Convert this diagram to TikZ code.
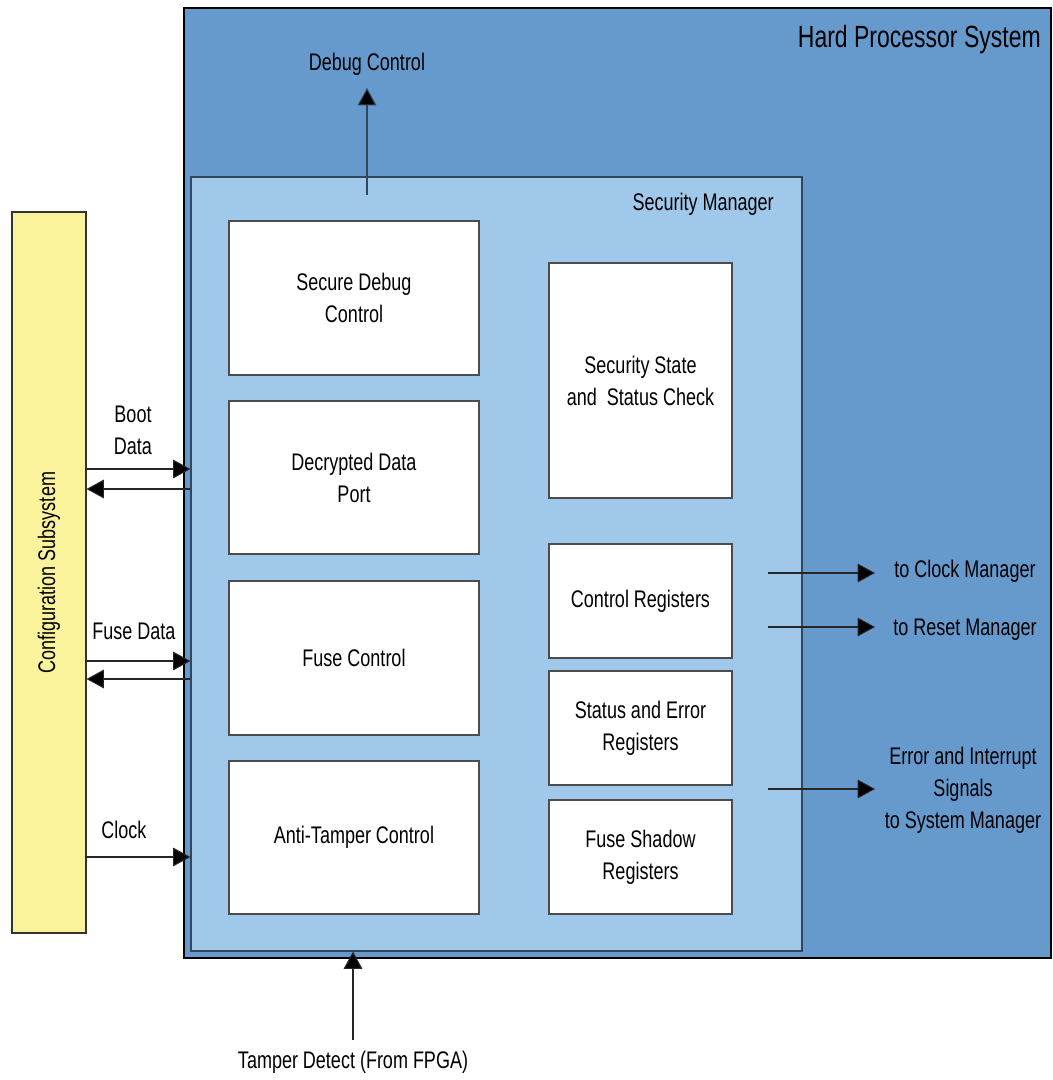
\documentclass[tikz,border=0pt]{standalone}
\usepackage{fontspec}
\setmainfont{Liberation Sans}[FakeStretch=0.75]
\usetikzlibrary{arrows.meta,calc}
\definecolor{hpsblue}{HTML}{6699CC}
\definecolor{smblue}{HTML}{9FC8EA}
\definecolor{cfgyellow}{HTML}{FAF39B}
\definecolor{smborder}{HTML}{34465A}
\tikzset{
  px/.style={x=0.75pt,y=-0.75pt},
  txt/.style={font=\fontsize{18pt}{24pt}\selectfont, align=center, inner sep=0pt},
  blk/.style={draw=black!70, fill=white, line width=0.9pt, txt},
  arr/.style={-{Triangle[length=13pt,width=14pt,fill=black]}, line width=0.8pt, draw=black!85},
}
\begin{document}
\begin{tikzpicture}[px]
\useasboundingbox (0,0) rectangle (1052,1080);
% Hard Processor System
\draw[fill=hpsblue, line width=1.6pt] (184,8) rectangle (1051,958);
\node[txt, font=\fontsize{23pt}{28pt}\selectfont, anchor=east] (hpsl) at (1041,40) {Hard Processor System};
% Security Manager
\node[draw=smborder, fill=smblue, line width=0.9pt, minimum width=611*0.75pt, minimum height=774*0.75pt, inner sep=0pt] (sm) at (496.5,564) {};
\node[txt, anchor=east] (sml) at (774,204) {Security Manager};
% blocks
\node[blk, minimum width=250*0.75pt, minimum height=154*0.75pt] (sdc) at (354,298) {Secure Debug\\Control};
\node[blk, minimum width=250*0.75pt, minimum height=153*0.75pt] (ddp) at (354,477.5) {Decrypted Data\\Port};
\node[blk, minimum width=250*0.75pt, minimum height=154*0.75pt] (fc) at (354,658) {Fuse Control};
\node[blk, minimum width=250*0.75pt, minimum height=153*0.75pt] (atc) at (354,837.5) {Anti-Tamper Control};
\node[blk, minimum width=183*0.75pt, minimum height=235*0.75pt] (ssc) at (640.5,380.5) {Security State\\and\ \ Status Check};
\node[blk, minimum width=183*0.75pt, minimum height=114*0.75pt] (cr) at (640.5,601) {Control Registers};
\node[blk, minimum width=183*0.75pt, minimum height=114*0.75pt] (ser) at (640.5,728) {Status and Error\\Registers};
\node[blk, minimum width=183*0.75pt, minimum height=114*0.75pt] (fsr) at (640.5,857) {Fuse Shadow\\Registers};
% Configuration subsystem
\node[draw=black!80, fill=cfgyellow, line width=0.8pt, minimum width=74*0.75pt, minimum height=721*0.75pt, inner sep=0pt] (cfg) at (49,572.5) {};
\node[txt, rotate=90] (cfgl) at (cfg.center) {Configuration Subsystem};
% left arrows
\coordinate (bootin) at (0,469);
\coordinate (bootout) at (0,489);
\coordinate (fusein) at (0,661);
\coordinate (fuseout) at (0,679);
\coordinate (clk) at (0,857);
\draw[arr] ($(cfg.east |- bootin)+(-2,0)$) -- (sm.west |- bootin);
\draw[arr] (sm.west |- bootout) -- (cfg.east |- bootout);
\draw[arr] ($(cfg.east |- fusein)+(-2,0)$) -- (sm.west |- fusein);
\draw[arr] (sm.west |- fuseout) -- (cfg.east |- fuseout);
\draw[arr] ($(cfg.east |- clk)+(-2,0)$) -- (sm.west |- clk);
\node[txt] (bootl) at (133,430) {Boot\\Data};
\node[txt] (fusel) at (134,631) {Fuse Data};
\node[txt] (clkl) at (124,830) {Clock};
% debug control
\node[txt] (dbgl) at (367,64) {Debug Control};
\coordinate (dbgstart) at (367,195);
\coordinate (dbgend) at (367,88);
\draw[arr, draw=smborder] (dbgstart) -- (dbgend);
% tamper
\node[txt] (tampl) at (353,1062) {Tamper Detect (From FPGA)};
\coordinate (tampstart) at (353,1040);
\draw[arr] (tampstart) -- (sm.south -| tampstart);
% right arrows
\coordinate (ckstart) at (768,573);
\coordinate (ckend) at (875,573);
\coordinate (rsstart) at (768,627);
\coordinate (rsend) at (875,627);
\coordinate (erstart) at (768,789);
\coordinate (erend) at (875,789);
\draw[arr] (ckstart) -- (ckend);
\draw[arr] (rsstart) -- (rsend);
\draw[arr] (erstart) -- (erend);
\node[txt] (ckl) at (965,571) {to Clock Manager};
\node[txt] (rsl) at (965,630) {to Reset Manager};
\node[txt] (erl) at (963,790) {Error and Interrupt\\Signals\\to System Manager};
\end{tikzpicture}
\end{document}
